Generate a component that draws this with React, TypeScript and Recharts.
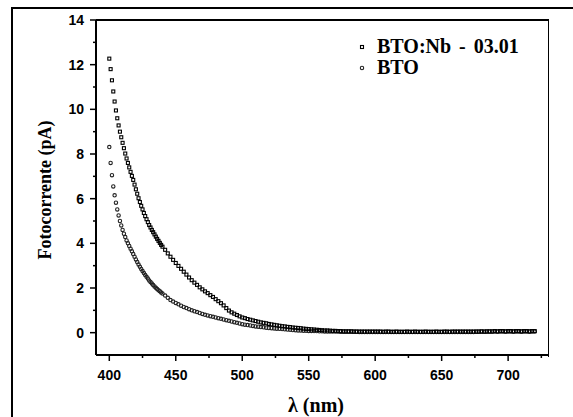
import React from "react";
import { ScatterChart, Scatter, XAxis, YAxis } from "recharts";

// wavelength grid (nm): 1 nm steps up to 440, 2 nm after
const lambdaFine = [
  400, 401, 402, 403, 404, 405, 406, 407, 408, 409, 410, 411, 412, 413, 414,
  415, 416, 417, 418, 419, 420, 421, 422, 423, 424, 425, 426, 427, 428, 429,
  430, 431, 432, 433, 434, 435, 436, 437, 438, 439, 440,
];
const lambdaCoarse = [
  442, 444, 446, 448, 450, 452, 454, 456, 458, 460, 462, 464, 466, 468, 470,
  472, 474, 476, 478, 480, 482, 484, 486, 488, 490, 492, 494, 496, 498, 500,
  502, 504, 506, 508, 510, 512, 514, 516, 518, 520, 522, 524, 526, 528, 530,
  532, 534, 536, 538, 540, 542, 544, 546, 548, 550, 552, 554, 556, 558, 560,
  562, 564, 566, 568, 570, 572, 574, 576, 578, 580, 582, 584, 586, 588, 590,
  592, 594, 596, 598, 600, 602, 604, 606, 608, 610, 612, 614, 616, 618, 620,
  622, 624, 626, 628, 630, 632, 634, 636, 638, 640, 642, 644, 646, 648, 650,
  652, 654, 656, 658, 660, 662, 664, 666, 668, 670, 672, 674, 676, 678, 680,
  682, 684, 686, 688, 690, 692, 694, 696, 698, 700, 702, 704, 706, 708, 710,
  712, 714, 716, 718, 720,
];
const lambda = [...lambdaFine, ...lambdaCoarse];

// BTO:Nb - 03.01 (pA)
const btoNb = [
  // 400-440
  12.27, 11.8, 11.3, 10.8, 10.35, 9.95, 9.6, 9.28, 9.0, 8.75, 8.5, 8.26, 8.02,
  7.8, 7.6, 7.4, 7.2, 7.02, 6.84, 6.63, 6.42, 6.22, 6.02, 5.85, 5.68, 5.52,
  5.36, 5.22, 5.08, 4.95, 4.82, 4.71, 4.6, 4.5, 4.4, 4.3, 4.2, 4.11, 4.02,
  3.93, 3.85,
  // 442-540
  3.71, 3.55, 3.4, 3.26, 3.12, 2.99, 2.86, 2.73, 2.6, 2.47, 2.35, 2.24, 2.14,
  2.03, 1.94, 1.85, 1.77, 1.68, 1.6, 1.5, 1.41, 1.32, 1.22, 1.1, 0.99, 0.91,
  0.85, 0.79, 0.73, 0.68, 0.65, 0.61, 0.58, 0.55, 0.52, 0.49, 0.46, 0.44,
  0.42, 0.39, 0.37, 0.35, 0.33, 0.31, 0.29, 0.28, 0.26, 0.25, 0.23, 0.22,
  // 542-566
  0.21, 0.2, 0.18, 0.17, 0.16, 0.15, 0.14, 0.13, 0.12, 0.11, 0.1, 0.1, 0.09,
  // 568-706
  0.08, 0.08, 0.07, 0.07, 0.06, 0.06, 0.06, 0.06, 0.05, 0.05,
  0.05, 0.05, 0.05, 0.05, 0.05, 0.05, 0.05, 0.05, 0.05, 0.04,
  0.05, 0.05, 0.04, 0.04, 0.05, 0.04, 0.04, 0.04, 0.05, 0.04,
  0.04, 0.05, 0.04, 0.04, 0.04, 0.05, 0.04, 0.04, 0.04, 0.05,
  0.04, 0.04, 0.05, 0.05, 0.04, 0.05, 0.05, 0.05, 0.05, 0.05,
  0.05, 0.05, 0.05, 0.05, 0.05, 0.05, 0.06, 0.05, 0.06, 0.06,
  0.06, 0.07, 0.06, 0.07, 0.07, 0.06, 0.07, 0.07, 0.06, 0.07,
  // 708-720
  0.07, 0.06, 0.07, 0.07, 0.06, 0.07, 0.07,
];

// BTO (pA)
const bto = [
  // 400-440
  8.31, 7.6, 7.05, 6.55, 6.15, 5.82, 5.52, 5.25, 5.0, 4.8, 4.6, 4.43, 4.28,
  4.13, 4.0, 3.88, 3.76, 3.64, 3.52, 3.4, 3.28, 3.16, 3.05, 2.95, 2.85, 2.76,
  2.67, 2.58, 2.5, 2.42, 2.34, 2.27, 2.2, 2.13, 2.07, 2.01, 1.95, 1.9, 1.85,
  1.8, 1.75,
  // 442-562
  1.66, 1.56, 1.46, 1.39, 1.33, 1.27, 1.21, 1.15, 1.1, 1.05, 1.0, 0.96, 0.92,
  0.88, 0.84, 0.8, 0.77, 0.74, 0.71, 0.68, 0.65, 0.62, 0.59, 0.56, 0.53,
  0.5, 0.47, 0.44, 0.41, 0.38, 0.36, 0.34, 0.32, 0.3, 0.28, 0.27, 0.25,
  0.24, 0.22, 0.21, 0.2, 0.19, 0.18, 0.17, 0.16, 0.15, 0.14, 0.13, 0.12,
  0.11, 0.1, 0.1, 0.09, 0.09, 0.08, 0.08, 0.07, 0.07, 0.06, 0.06, 0.05,
  // 564-566
  0.05, 0.05,
  // 568-706
  0.05, 0.05, 0.05, 0.04, 0.04, 0.04, 0.04, 0.04, 0.04, 0.04,
  0.03, 0.03, 0.03, 0.03, 0.03, 0.03, 0.03, 0.03, 0.03, 0.03,
  0.03, 0.03, 0.03, 0.03, 0.03, 0.03, 0.03, 0.03, 0.03, 0.03,
  0.03, 0.03, 0.03, 0.03, 0.03, 0.03, 0.03, 0.03, 0.03, 0.03,
  0.03, 0.03, 0.03, 0.03, 0.03, 0.03, 0.03, 0.03, 0.03, 0.03,
  0.03, 0.03, 0.03, 0.03, 0.04, 0.04, 0.04, 0.04, 0.04, 0.04,
  0.04, 0.05, 0.04, 0.05, 0.05, 0.04, 0.05, 0.05, 0.04, 0.05,
  // 708-720
  0.05, 0.04, 0.05, 0.05, 0.04, 0.05, 0.05,
];

const xTicks = [400, 425, 450, 475, 500, 525, 550, 575, 600, 625, 650, 675, 700, 725];
const yTicks = [0, 1, 2, 3, 4, 5, 6, 7, 8, 9, 10, 11, 12, 13, 14];

const nbData = lambda.map((x, i) => ({ x, y: btoNb[i] }));
const btoData = lambda.map((x, i) => ({ x, y: bto[i] }));

const tickFont = "'Liberation Sans', Arial, sans-serif";
const serif = "'Liberation Serif', 'Times New Roman', serif";

const XTick = (props: any) => {
  const { x, y, payload } = props;
  const major = payload.value % 50 === 0;
  return (
    <g>
      <line x1={x} y1={y} x2={x} y2={y + (major ? 6 : 3)} stroke="#000" strokeWidth={1.5} />
      {major && (
        <text x={x} y={y + 25} textAnchor="middle" fontFamily={tickFont} fontWeight="bold" fontSize={14} fill="#000">
          {payload.value}
        </text>
      )}
    </g>
  );
};

const YTick = (props: any) => {
  const { x, y, payload } = props;
  const major = payload.value % 2 === 0;
  return (
    <g>
      <line x1={x} y1={y} x2={x - (major ? 6 : 3)} y2={y} stroke="#000" strokeWidth={1.5} />
      {major && (
        <text x={x - 12} y={y + 5} textAnchor="end" fontFamily={tickFont} fontWeight="bold" fontSize={14} fill="#000">
          {payload.value}
        </text>
      )}
    </g>
  );
};

const SquareDot = (props: any) => (
  <rect x={props.cx - 1.5} y={props.cy - 1.5} width={3} height={3} fill="none" stroke="#000" strokeWidth={1.1} />
);
const CircleDot = (props: any) => (
  <circle cx={props.cx} cy={props.cy} r={1.7} fill="none" stroke="#222" strokeWidth={1.1} />
);

export default function App() {
  return (
    <div style={{ position: "absolute", left: 0, top: 0, width: 573, height: 417, background: "#fff", overflow: "hidden" }}>
      <div style={{ position: "absolute", left: 11, top: 7, right: -5, bottom: -5, borderLeft: "2px solid #000", borderTop: "2px solid #000" }} />
      {/* top and right frame of the plot box */}
      <div style={{ position: "absolute", left: 96, top: 19, width: 452, height: 336, borderTop: "2px solid #000", borderRight: "1.5px solid #000" }} />
      <div style={{ position: "absolute", left: 0, top: 0 }}>
        <ScatterChart width={573} height={417} margin={{ top: 20, right: 25, bottom: 0, left: 0 }}>
          <XAxis
            type="number"
            dataKey="x"
            domain={[390, 730]}
            ticks={xTicks}
            height={62}
            tickSize={0}
            tickMargin={0}
            tickLine={false}
            interval={0}
            axisLine={{ stroke: "#000", strokeWidth: 2 }}
            tick={<XTick />}
            allowDataOverflow
          />
          <YAxis
            type="number"
            dataKey="y"
            domain={[-1, 14]}
            ticks={yTicks}
            width={96}
            tickSize={0}
            tickMargin={0}
            tickLine={false}
            interval={0}
            axisLine={{ stroke: "#000", strokeWidth: 2 }}
            tick={<YTick />}
            allowDataOverflow
          />
          <Scatter data={btoData} shape={<CircleDot />} isAnimationActive={false} />
          <Scatter data={nbData} shape={<SquareDot />} isAnimationActive={false} />
        </ScatterChart>
      </div>
      <div
        style={{
          position: "absolute",
          left: 45,
          top: 190,
          transform: "translate(-50%, -50%) rotate(-90deg)",
          fontFamily: serif,
          fontWeight: "bold",
          fontSize: 18,
          whiteSpace: "nowrap",
        }}
      >
        Fotocorrente (pA)
      </div>
      <div
        style={{
          position: "absolute",
          left: 316,
          top: 405,
          transform: "translate(-50%, -50%)",
          fontFamily: serif,
          fontWeight: "bold",
          fontSize: 20,
          whiteSpace: "nowrap",
        }}
      >
        λ (nm)
      </div>
      <div style={{ position: "absolute", left: 357, top: 36, fontFamily: serif, fontWeight: "bold", fontSize: 20, lineHeight: "21px" }}>
        <div style={{ display: "flex", alignItems: "center" }}>
          <svg width={12} height={10}>
            <rect x={3.5} y={3.5} width={3} height={3} fill="none" stroke="#000" strokeWidth={1.1} />
          </svg>
          <span style={{ marginLeft: 8, wordSpacing: 3 }}>BTO:Nb - 03.01</span>
        </div>
        <div style={{ display: "flex", alignItems: "center" }}>
          <svg width={12} height={10}>
            <circle cx={5} cy={5} r={1.7} fill="none" stroke="#222" strokeWidth={1.1} />
          </svg>
          <span style={{ marginLeft: 8 }}>BTO</span>
        </div>
      </div>
    </div>
  );
}
